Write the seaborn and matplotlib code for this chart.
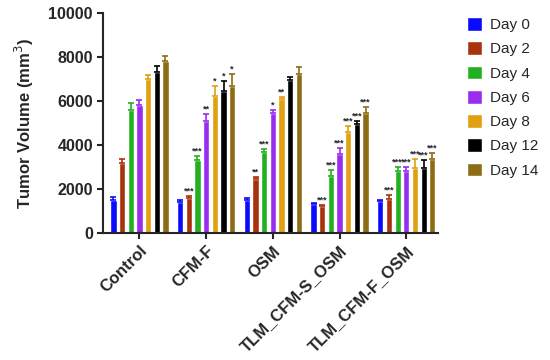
import numpy as np
import pandas as pd
import matplotlib
matplotlib.use("Agg")
import matplotlib.pyplot as plt
import seaborn as sns

groups = ["Control", "CFM-F", "OSM", "TLM_CFM-S_OSM", "TLM_CFM-F_OSM"]
days = ["Day 0", "Day 2", "Day 4", "Day 6", "Day 8", "Day 12", "Day 14"]
colors = ["#0a0aff", "#a8320c", "#22b022", "#9a2cf0", "#e0a010", "#000000", "#8c6c14"]

# mean tumour volume per group (rows) and day (cols)
means = [
    [1500, 3200, 5600, 5820, 7000, 7350, 7850],
    [1400, 1580, 3300, 5100, 6250, 6450, 6680],
    [1500, 2450, 3680, 5450, 6080, 6980, 7250],
    [1300, 1220, 2600, 3600, 4580, 4950, 5480],
    [1460, 1560, 2800, 2800, 2950, 2960, 3360],
]
errors = [
    [150, 180, 300, 250, 200, 250, 200],
    [100, 100, 200, 300, 450, 450, 550],
    [100, 100, 150, 150, 100, 100, 300],
    [60, 50, 250, 250, 300, 150, 250],
    [60, 150, 200, 200, 400, 350, 270],
]
stars = [
    ["", "", "", "", "", "", ""],
    ["", "***", "***", "**", "*", "*", "*"],
    ["", "**", "***", "*", "**", "", ""],
    ["", "***", "***", "***", "***", "***", "***"],
    ["", "***", "***", "***", "***", "***", "***"],
]

rows = []
for gi, g in enumerate(groups):
    for di, d in enumerate(days):
        rows.append({"Group": g, "Day": d, "Volume": means[gi][di]})
df = pd.DataFrame(rows)

sns.set_style("ticks")
plt.rcParams["font.family"] = ["Liberation Sans", "DejaVu Sans"]

fig, ax = plt.subplots(figsize=(5.5, 3.6), dpi=100)
fig.subplots_adjust(left=0.188, right=0.797, top=0.963, bottom=0.353)

sns.barplot(data=df, x="Group", y="Volume", hue="Day", order=groups,
            hue_order=days, palette=colors, width=0.91, gap=0.28,
            saturation=1, errorbar=None, ax=ax)

# error bars (upper only) and significance stars
bar_sets = list(ax.containers)
for di, container in enumerate(bar_sets):
    for gi, bar in enumerate(container):
        xc = bar.get_x() + bar.get_width() / 2
        h = bar.get_height()
        e = errors[gi][di]
        ax.errorbar(xc, h, yerr=[[0], [e]], color=colors[di], capsize=2,
                    elinewidth=1.2, capthick=1.2)
        s = stars[gi][di]
        if s:
            ax.text(xc, h + e + 30, s, ha="center", va="bottom",
                    fontsize=6.5, fontweight="bold")

ax.set_ylim(0, 10000)
ax.set_yticks([0, 2000, 4000, 6000, 8000, 10000])
ax.set_xlim(-0.54, 4.48)
ax.set_xlabel("")
ax.set_ylabel("Tumor Volume (mm$^3$)", fontsize=12, fontweight="bold",
              labelpad=9)
ax.tick_params(axis="both", width=1.5, length=4, labelsize=11.5)
for lab in ax.get_yticklabels():
    lab.set_fontweight("bold")
ax.set_xticks(range(len(groups)))
ax.set_xticklabels(groups, rotation=45, ha="right", rotation_mode="anchor",
                   fontweight="bold", fontsize=12)
for sp in ["left", "bottom"]:
    ax.spines[sp].set_linewidth(1.5)
sns.despine(ax=ax)

ax.legend(loc="upper left", bbox_to_anchor=(1.045, 1.045), frameon=False,
          fontsize=11, handlelength=1.0, handleheight=1.0,
          labelspacing=0.6, handletextpad=0.5)

fig.savefig("out.png", dpi=100)
